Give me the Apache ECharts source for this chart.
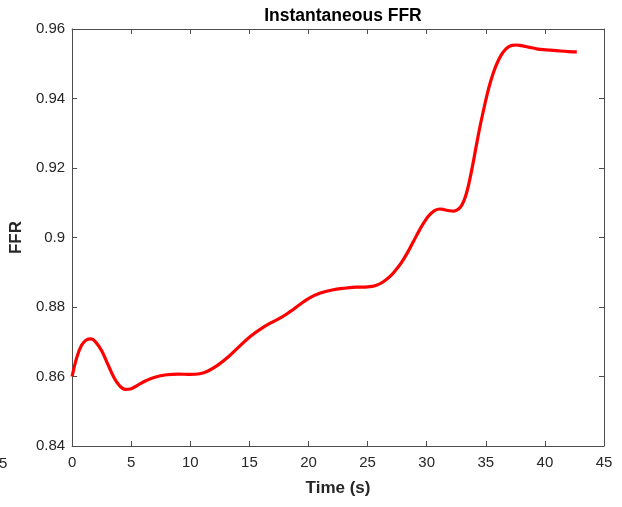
<!DOCTYPE html>
<html>
<head>
<meta charset="utf-8">
<script src="https://cdn.jsdelivr.net/npm/echarts@6/dist/echarts.min.js"></script>
<style>html,body{margin:0;padding:0;background:#fff}#c{width:622px;height:507px}</style>
</head>
<body>
<div id="c"></div>
<script>
var time = [0, 0.4, 0.8, 1.2, 1.6, 2.0, 2.5, 3.0, 3.5, 4.0, 4.5, 5.0, 5.6, 6.2, 7.0, 8.0, 9.0, 10.0, 10.8, 11.5, 12.3, 13.2, 14.2, 15.1, 16.0, 16.9, 17.7, 18.5, 19.3, 20.1, 21.0, 22.0, 23.0, 24.0, 25.0, 25.7, 26.3, 26.9, 27.4, 27.9, 28.4, 28.9, 29.4, 29.9, 30.3, 30.7, 31.1, 31.5, 31.9, 32.3, 32.7, 33.0, 33.3, 33.6, 33.9, 34.2, 34.5, 34.8, 35.1, 35.4, 35.7, 36.0, 36.3, 36.6, 36.9, 37.2, 37.6, 38.0, 38.6, 39.3, 40.2, 41.2, 42.0, 42.7];
var ffr  = [0.8600, 0.8655, 0.8690, 0.8705, 0.8708, 0.8699, 0.8674, 0.8637, 0.8600, 0.8574, 0.8563, 0.8565, 0.8576, 0.8587, 0.8598, 0.8605, 0.8607, 0.8606, 0.8608, 0.8616, 0.8632, 0.8656, 0.8688, 0.8716, 0.8738, 0.8756, 0.8770, 0.8788, 0.8808, 0.8826, 0.8840, 0.8849, 0.8854, 0.8857, 0.8858, 0.8862, 0.8872, 0.8888, 0.8907, 0.8930, 0.8958, 0.8990, 0.9022, 0.9050, 0.9067, 0.9078, 0.9082, 0.9080, 0.9077, 0.9076, 0.9082, 0.9095, 0.9120, 0.9160, 0.9210, 0.9265, 0.9318, 0.9365, 0.9410, 0.9448, 0.9480, 0.9505, 0.9525, 0.9539, 0.9548, 0.9553, 0.9554, 0.9552, 0.9548, 0.9543, 0.9540, 0.9537, 0.9535, 0.9534];
var xTicks = [0, 5, 10, 15, 20, 25, 30, 35, 40, 45];
var yTicks = [0.84, 0.86, 0.88, 0.9, 0.92, 0.94, 0.96];
var titleText = 'Instantaneous FFR';
var xName = 'Time (s)';
var yName = 'FFR';
var strayLabel = '5';

var data = time.map(function (t, i) { return [t, ffr[i]]; });
var font = 'Liberation Sans, Arial, Helvetica, sans-serif';
var axisColor = '#4d4d4d';
var textColor = '#262626';
function fmtY(v) { return String(parseFloat(v.toFixed(2))); }

function mk() {
  return {
    axisLine: { show: true, onZero: false, lineStyle: { color: axisColor, width: 1 } },
    axisTick: { show: true, inside: true, length: 5, lineStyle: { color: axisColor, width: 1 } },
    splitLine: { show: false }
  };
}

var chart = echarts.init(document.getElementById('c'), null, { renderer: 'canvas' });
chart.setOption({
  animation: false,
  backgroundColor: '#fff',
  title: {
    text: titleText, left: 338, top: 2, textAlign: 'center',
    textStyle: { fontFamily: font, fontWeight: 'bold', fontSize: 17.5, color: '#000' }
  },
  grid: { left: 72, top: 29, right: 18, bottom: 61, containLabel: false },
  xAxis: [
    Object.assign({
      type: 'value', position: 'bottom', min: 0, max: 45, interval: 5,
      name: xName, nameLocation: 'middle', nameGap: 34,
      nameTextStyle: { fontFamily: font, fontWeight: 'bold', fontSize: 17, color: textColor },
      axisLabel: { fontFamily: font, fontSize: 15, color: textColor, margin: 9 }
    }, mk()),
    Object.assign({
      type: 'value', position: 'top', min: 0, max: 45, interval: 5,
      axisLabel: { show: false }
    }, mk())
  ],
  yAxis: [
    Object.assign({
      type: 'value', position: 'left', min: 0.84, max: 0.96, interval: 0.02,
      name: yName, nameLocation: 'middle', nameGap: 44, nameRotate: 90,
      nameTextStyle: { fontFamily: font, fontWeight: 'bold', fontSize: 17, color: textColor },
      axisLabel: { fontFamily: font, fontSize: 15, color: textColor, margin: 7,
        formatter: fmtY }
    }, mk()),
    Object.assign({
      type: 'value', position: 'right', min: 0.84, max: 0.96, interval: 0.02,
      axisLabel: { show: false }
    }, mk())
  ],
  graphic: [{
    type: 'text', left: -1, top: 456,
    style: { text: strayLabel, fontFamily: font, fontSize: 15, fill: textColor }
  }],
  series: [{
    type: 'line', data: data, smooth: 0.4, showSymbol: false,
    lineStyle: { color: '#ff0000', width: 3.2 }, clip: false
  }]
});
</script>
</body>
</html>
